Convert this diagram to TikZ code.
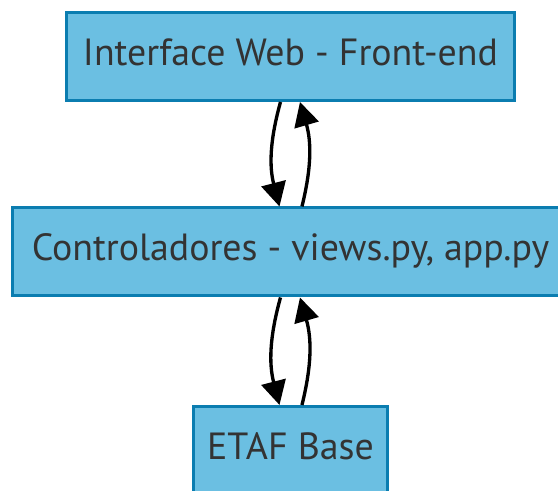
\documentclass[tikz,border=0pt]{standalone}
\usepackage{fontspec}
\setmainfont{PT Sans}
\usetikzlibrary{arrows.meta}
\definecolor{boxfill}{HTML}{6BBFE2}
\definecolor{boxline}{HTML}{0B7DB0}
\definecolor{boxtext}{HTML}{333333}
\begin{document}
\begin{tikzpicture}[x=0.75pt, y=0.75pt,
    layer/.style={rectangle, draw=boxline, fill=boxfill, line width=2.25pt,
        text=boxtext, font=\fontsize{28.4}{31}\selectfont,
        minimum height=66pt, text height=20.5pt, text depth=7.5pt},
    flow/.style={-{Triangle[length=18pt, width=18.5pt]}, line width=2.5pt, black}]
        \useasboundingbox (0,0) rectangle (558,491);
        \clip (0,0) rectangle (558,491);

        % Front-end layer
        \node[layer, minimum width=336pt] (web) at (290.5,434.5) {Interface Web - Front-end};

        % Controller layer
        \node[layer, minimum width=417pt] (ctrl) at (290.5,239) {Controladores - views.py, app.py};

        % Base layer
        \node[layer, minimum width=145.5pt] (base) at (290.5,40.5) {ETAF Base};

        % Requests going down, answers going up
        \draw[flow] ([xshift=-7.5pt]web.south) to[bend right=15] ([xshift=-8.25pt]ctrl.north);
        \draw[flow] ([xshift=8.6pt]ctrl.north) to[bend right=15] ([xshift=7.1pt]web.south);

        \draw[flow] ([xshift=-7.5pt]ctrl.south) to[bend right=15] ([xshift=-8.25pt]base.north);
        \draw[flow] ([xshift=8.6pt]base.north) to[bend right=15] ([xshift=7.1pt]ctrl.south);
    \end{tikzpicture}
\end{document}
